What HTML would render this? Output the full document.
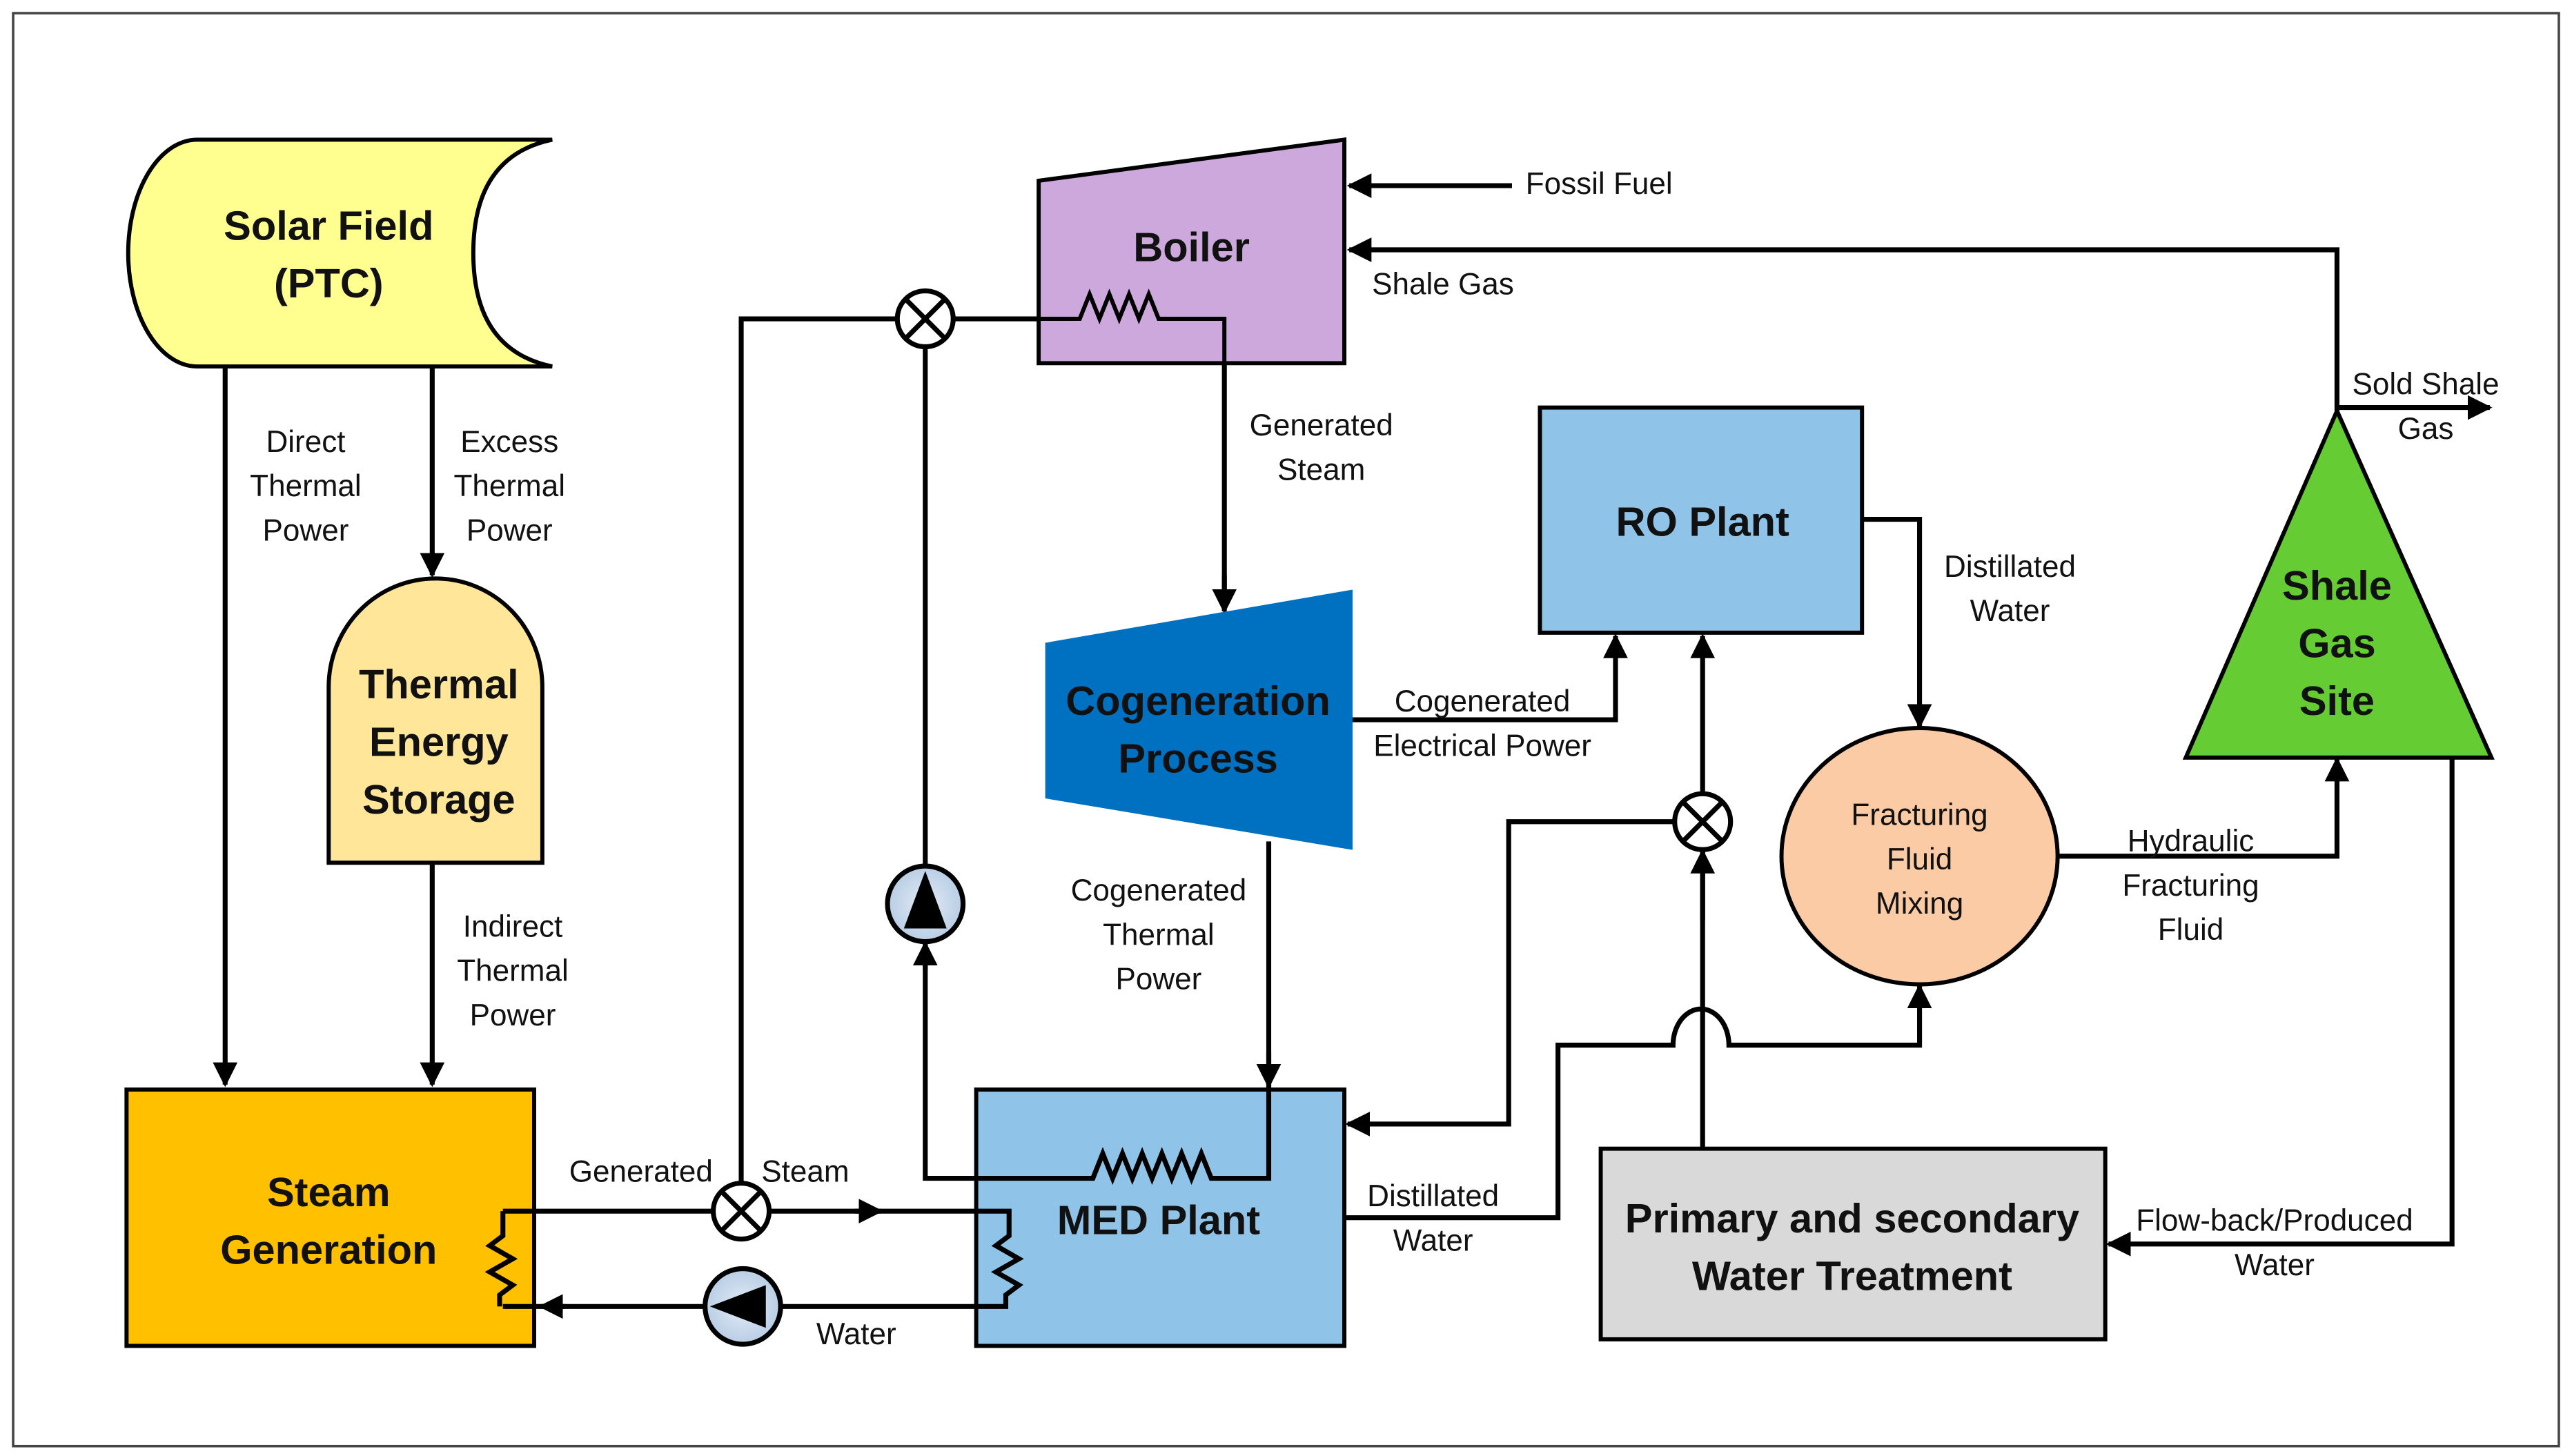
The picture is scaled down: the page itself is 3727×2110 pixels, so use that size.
<!DOCTYPE html>
<html><head><meta charset="utf-8"><style>
html,body{margin:0;padding:0;background:#fff}
svg{display:block}
text{font-family:"Liberation Sans",sans-serif;fill:#111}
.l{font-size:18.5px}
.b{font-size:25px;font-weight:bold}
</style></head><body>
<svg width="3727" height="2110" viewBox="0 0 1565 886" xmlns="http://www.w3.org/2000/svg">
<defs>
<marker id="a" viewBox="0 0 10 10" refX="9" refY="5" markerWidth="5" markerHeight="5" orient="auto"><path d="M0 0L10 5L0 10z" fill="#000"/></marker>
<radialGradient id="pg" cx="50%" cy="50%" r="50%"><stop offset="0" stop-color="#e3ecf6"/><stop offset="1" stop-color="#b8cde4"/></radialGradient>
</defs>
<rect x="8" y="8" width="1549" height="872" fill="#fff" stroke="#444" stroke-width="1.5"/>
<g fill="none" stroke="#000" stroke-width="3">
<!-- solar lines -->
<path d="M137 223V660" marker-end="url(#a)"/>
<path d="M263 223V350" marker-end="url(#a)"/>
<path d="M263 525V660" marker-end="url(#a)"/>
<!-- steam loop -->
<path d="M614 760V737H306V752l-8 6 14 8-14 8 14 8-8 6V795H614V778l-8-6 14-8-14-8 14-8-8-6" />
<path d="M330 795H345" marker-end="url(#a)" transform="rotate(180 337 795)"/>
<path d="M520 737H536" marker-end="url(#a)"/>
<path d="M451 737V194H745V370" />
<path d="M745 350V372" marker-end="url(#a)"/>
<path d="M563 194V717H665l6-15 6 15 6-15 6 15 6-15 6 15 6-15 6 15 6-15 6 15 6-15 6 15H772V512"/>
<path d="M772 640V661" marker-end="url(#a)"/>
<path d="M563 590V574" marker-end="url(#a)"/>
<!-- fuels -->
<path d="M920 113H821" marker-end="url(#a)"/>
<path d="M1422 250V152H821" marker-end="url(#a)"/>
<path d="M1422 248H1515" marker-end="url(#a)"/>
<!-- cogen elec -->
<path d="M822 438H983V387" marker-end="url(#a)"/>
<path d="M1133 316H1168V442" marker-end="url(#a)"/>
<path d="M1252 521H1422V462" marker-end="url(#a)"/>
<path d="M1492 461V757H1283" marker-end="url(#a)"/>
<path d="M1036 699V387" marker-end="url(#a)"/>
<path d="M1036 560V518" marker-end="url(#a)"/>
<path d="M1036 500H918V684H820" marker-end="url(#a)"/>
<path d="M818 741H948V636H1018A17 22 0 0 1 1052 636H1168V600" marker-end="url(#a)"/>
</g>
<!-- coil in boiler -->
<path d="M657 194l6-15 6 15 6-15 6 15 6-15 6 15 6-15 6 15" fill="none" stroke="#000" stroke-width="2.5"/>
<!-- shapes -->
<path d="M120 85H336Q288 95 288 154Q288 213 336 223H120A42 69 0 0 1 120 85Z" fill="#ffff8f" stroke="#000" stroke-width="2.5"/>
<text class="b" x="200" y="146" text-anchor="middle">Solar Field</text>
<text class="b" x="200" y="181" text-anchor="middle">(PTC)</text>
<path d="M200 525V418A65 66 0 0 1 330 418V525Z" fill="#ffe699" stroke="#000" stroke-width="2.5"/>
<text class="b" x="267" y="425" text-anchor="middle">Thermal</text>
<text class="b" x="267" y="460" text-anchor="middle">Energy</text>
<text class="b" x="267" y="495" text-anchor="middle">Storage</text>
<rect x="77" y="663" width="248" height="156" fill="#ffc000" stroke="#000" stroke-width="2.5"/>
<path d="M306 737V752l-8 6 14 8-14 8 14 8-8 6V795" fill="none" stroke="#000" stroke-width="3"/>
<path d="M306 737H325M306 795H325" stroke="#000" stroke-width="3"/>
<text class="b" x="200" y="734" text-anchor="middle">Steam</text>
<text class="b" x="200" y="769" text-anchor="middle">Generation</text>
<rect x="594" y="663" width="224" height="156" fill="#8fc3e8" stroke="#000" stroke-width="2.5"/>
<path d="M594 737H614V752l-8 6 14 8-14 8 14 8-8 6V795H594" fill="none" stroke="#000" stroke-width="3"/>
<path d="M594 717H665l6-15 6 15 6-15 6 15 6-15 6 15 6-15 6 15 6-15 6 15 6-15 6 15H772V663" fill="none" stroke="#000" stroke-width="3"/>
<text class="b" x="705" y="751" text-anchor="middle">MED Plant</text>
<path d="M632 110L818 85V221H632Z" fill="#cca8dc" stroke="#000" stroke-width="2.5"/>
<path d="M632 194H657l6-15 6 15 6-15 6 15 6-15 6 15 6-15 6 15H745V221" fill="none" stroke="#000" stroke-width="2.5"/>
<text class="b" x="725" y="159" text-anchor="middle">Boiler</text>
<path d="M637 392L822 360V516L637 485Z" fill="#0070c0" stroke="#0070c0" stroke-width="2"/>
<text class="b" x="729" y="435" text-anchor="middle">Cogeneration</text>
<text class="b" x="729" y="470" text-anchor="middle">Process</text>
<rect x="937" y="248" width="196" height="137" fill="#8fc3e8" stroke="#000" stroke-width="2.5"/>
<text class="b" x="1036" y="326" text-anchor="middle">RO Plant</text>
<ellipse cx="1168" cy="521" rx="84" ry="78" fill="#fbcba6" stroke="#000" stroke-width="2.5"/>
<text class="l" x="1168" y="502" text-anchor="middle">Fracturing</text>
<text class="l" x="1168" y="529" text-anchor="middle">Fluid</text>
<text class="l" x="1168" y="556" text-anchor="middle">Mixing</text>
<path d="M1422 250L1516 461H1330Z" fill="#66cc33" stroke="#000" stroke-width="2.5"/>
<text class="b" x="1422" y="365" text-anchor="middle">Shale</text>
<text class="b" x="1422" y="400" text-anchor="middle">Gas</text>
<text class="b" x="1422" y="435" text-anchor="middle">Site</text>
<rect x="974" y="699" width="307" height="116" fill="#d9d9d9" stroke="#000" stroke-width="2.5"/>
<text class="b" x="1127" y="750" text-anchor="middle">Primary and secondary</text>
<text class="b" x="1127" y="785" text-anchor="middle">Water Treatment</text>
<!-- valves -->
<g fill="#fff" stroke="#000" stroke-width="3">
<circle cx="563" cy="194" r="17"/><path d="M551 182L575 206M575 182L551 206"/>
<circle cx="451" cy="737" r="17"/><path d="M439 725L463 749M463 725L439 749"/>
<circle cx="1036" cy="500" r="17"/><path d="M1024 488L1048 512M1048 488L1024 512"/>
</g>
<!-- pumps -->
<circle cx="563" cy="550" r="23" fill="url(#pg)" stroke="#000" stroke-width="3"/>
<path d="M563 530L576 565H550Z" fill="#000"/>
<circle cx="452" cy="795" r="23" fill="url(#pg)" stroke="#000" stroke-width="3"/>
<path d="M432 795L466 782V808Z" fill="#000"/>
<!-- labels -->
<g class="l" text-anchor="middle">
<text x="186" y="275">Direct</text><text x="186" y="302">Thermal</text><text x="186" y="329">Power</text>
<text x="310" y="275">Excess</text><text x="310" y="302">Thermal</text><text x="310" y="329">Power</text>
<text x="312" y="570">Indirect</text><text x="312" y="597">Thermal</text><text x="312" y="624">Power</text>
<text x="390" y="719">Generated</text><text x="490" y="719">Steam</text>
<text x="521" y="818">Water</text>
<text x="804" y="265">Generated</text><text x="804" y="292">Steam</text>
<text x="705" y="548">Cogenerated</text><text x="705" y="575">Thermal</text><text x="705" y="602">Power</text>
<text x="973" y="118">Fossil Fuel</text>
<text x="878" y="179">Shale Gas</text>
<text x="1476" y="240">Sold Shale</text><text x="1476" y="267">Gas</text>
<text x="902" y="433">Cogenerated</text><text x="902" y="460">Electrical Power</text>
<text x="1223" y="351">Distillated</text><text x="1223" y="378">Water</text>
<text x="1333" y="518">Hydraulic</text><text x="1333" y="545">Fracturing</text><text x="1333" y="572">Fluid</text>
<text x="872" y="734">Distillated</text><text x="872" y="761">Water</text>
<text x="1384" y="749">Flow-back/Produced</text><text x="1384" y="776">Water</text>
</g>
</svg>
</body></html>
